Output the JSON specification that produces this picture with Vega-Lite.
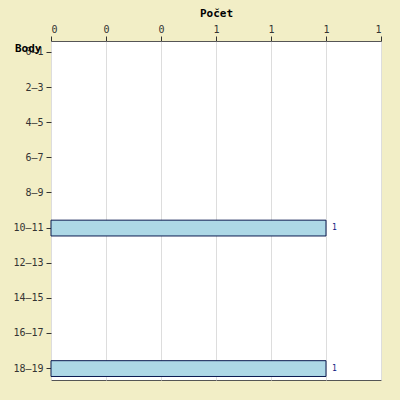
{
  "$schema": "https://vega.github.io/schema/vega-lite/v6.json",
  "width": 330,
  "height": 339,
  "padding": {"left": 51, "top": 41, "right": 19, "bottom": 20},
  "autosize": {"type": "none"},
  "background": "#f2eec6",
  "config": {
    "view": {"fill": "white", "stroke": "#555555"},
    "font": "DejaVu Sans Mono",
    "axis": {"labelFont": "DejaVu Sans Mono", "titleFont": "DejaVu Sans Mono", "labelFontSize": 10, "titleFontSize": 11, "labelColor": "#333333", "tickColor": "#333333", "domain": false}
  },
  "data": {
    "values": [
      {"body": "0–1", "pocet": 0},
      {"body": "2–3", "pocet": 0},
      {"body": "4–5", "pocet": 0},
      {"body": "6–7", "pocet": 0},
      {"body": "8–9", "pocet": 0},
      {"body": "10–11", "pocet": 1},
      {"body": "12–13", "pocet": 0},
      {"body": "14–15", "pocet": 0},
      {"body": "16–17", "pocet": 0},
      {"body": "18–19", "pocet": 1}
    ]
  },
  "transform": [{"filter": "datum.pocet > 0"}],
  "encoding": {
    "y": {
      "field": "body", "type": "nominal", "sort": null,
      "scale": {"domain": ["0–1","2–3","4–5","6–7","8–9","10–11","12–13","14–15","16–17","18–19"], "paddingInner": 0.55, "paddingOuter": 0.1},
      "axis": {"title": "Body", "titleAngle": 0, "titleAnchor": "end", "titleAlign": "right", "titleBaseline": "bottom", "titleX": -10, "titleY": 12, "titleFontWeight": "bold", "grid": false, "tickSize": 5, "labelPadding": 3}
    },
    "x": {
      "field": "pocet", "type": "quantitative",
      "scale": {"domain": [0, 1.2], "nice": false},
      "axis": {"orient": "top", "title": "Počet", "titleFontWeight": "bold", "values": [0, 0.2, 0.4, 0.6, 0.8, 1, 1.2], "format": ".0f", "gridColor": "#dddddd", "tickSize": 5, "titlePadding": 6}
    }
  },
  "layer": [
    {"mark": {"type": "bar", "fill": "#add8e6", "stroke": "#0a1a50", "strokeWidth": 1}},
    {"mark": {"type": "text", "align": "left", "dx": 6, "fontSize": 8, "fill": "#0a1a80", "font": "DejaVu Sans Mono"}, "encoding": {"text": {"field": "pocet"}}}
  ]
}
